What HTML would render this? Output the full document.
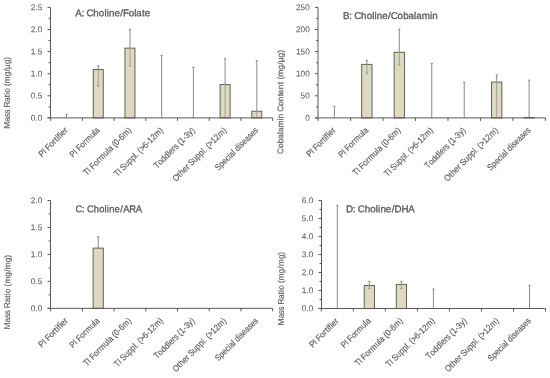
<!DOCTYPE html>
<html><head><meta charset="utf-8"><style>
html,body{margin:0;padding:0;background:#fff;}
svg{display:block;font-family:"Liberation Sans", sans-serif;filter:blur(0.4px);}
text{fill:#595959;stroke:#595959;stroke-width:0.3px;}
text.xl{stroke-width:0.15px;}
text.tk{stroke-width:0.05px;}
text.yt{stroke-width:0.15px;}
</style></head><body>
<svg width="550" height="378" viewBox="0 0 550 378">
<rect width="550" height="378" fill="#fff"/>
<g>
<line x1="66.55" y1="114.36" x2="66.55" y2="117.9" stroke="#8a8a8a" stroke-width="1"/>
<line x1="65.45" y1="114.36" x2="67.64" y2="114.36" stroke="#8a8a8a" stroke-width="1"/>
<rect x="93.26" y="69.5" width="9.99" height="48.4" fill="#DDD9C3" stroke="#606054" stroke-width="1"/>
<line x1="98.25" y1="65.74" x2="98.25" y2="69.5" stroke="#8a8a8a" stroke-width="1"/>
<line x1="98.25" y1="69.5" x2="98.25" y2="85.99" stroke="#a3a092" stroke-width="1"/>
<line x1="97.16" y1="65.74" x2="99.35" y2="65.74" stroke="#8a8a8a" stroke-width="1"/>
<line x1="97.16" y1="85.99" x2="99.35" y2="85.99" stroke="#8a8a8a" stroke-width="1"/>
<rect x="124.97" y="48.15" width="9.99" height="69.75" fill="#DDD9C3" stroke="#606054" stroke-width="1"/>
<line x1="129.97" y1="29.5" x2="129.97" y2="48.15" stroke="#8a8a8a" stroke-width="1"/>
<line x1="129.97" y1="48.15" x2="129.97" y2="65.97" stroke="#a3a092" stroke-width="1"/>
<line x1="128.87" y1="29.5" x2="131.06" y2="29.5" stroke="#8a8a8a" stroke-width="1"/>
<line x1="128.87" y1="65.97" x2="131.06" y2="65.97" stroke="#8a8a8a" stroke-width="1"/>
<line x1="161.68" y1="55.36" x2="161.68" y2="117.9" stroke="#8a8a8a" stroke-width="1"/>
<line x1="160.58" y1="55.36" x2="162.78" y2="55.36" stroke="#8a8a8a" stroke-width="1"/>
<line x1="193.38" y1="67.16" x2="193.38" y2="117.9" stroke="#8a8a8a" stroke-width="1"/>
<line x1="192.28" y1="67.16" x2="194.48" y2="67.16" stroke="#8a8a8a" stroke-width="1"/>
<rect x="220.1" y="84.57" width="9.99" height="33.33" fill="#DDD9C3" stroke="#606054" stroke-width="1"/>
<line x1="225.09" y1="58.67" x2="225.09" y2="84.57" stroke="#8a8a8a" stroke-width="1"/>
<line x1="225.09" y1="84.57" x2="225.09" y2="117.9" stroke="#a3a092" stroke-width="1"/>
<line x1="224" y1="58.67" x2="226.19" y2="58.67" stroke="#8a8a8a" stroke-width="1"/>
<rect x="251.81" y="111.27" width="9.99" height="6.63" fill="#DDD9C3" stroke="#606054" stroke-width="1"/>
<line x1="256.81" y1="60.62" x2="256.81" y2="111.27" stroke="#8a8a8a" stroke-width="1"/>
<line x1="256.81" y1="111.27" x2="256.81" y2="117.9" stroke="#a3a092" stroke-width="1"/>
<line x1="255.71" y1="60.62" x2="257.91" y2="60.62" stroke="#8a8a8a" stroke-width="1"/>
<line x1="50.5" y1="7.4" x2="50.5" y2="117.9" stroke="#595959" stroke-width="1"/>
<line x1="47.5" y1="117.9" x2="272.66" y2="117.9" stroke="#595959" stroke-width="1"/>
<line x1="47.5" y1="117.9" x2="50.5" y2="117.9" stroke="#595959" stroke-width="1"/>
<text class="tk" x="-11.82 -7.09 -4.73" y="0" font-size="8.5" transform="translate(42.2 120.7) rotate(0.05) scale(0.9644 1)">0.0</text>
<line x1="48.5" y1="106.85" x2="50.5" y2="106.85" stroke="#595959" stroke-width="1"/>
<line x1="47.5" y1="95.8" x2="50.5" y2="95.8" stroke="#595959" stroke-width="1"/>
<text class="tk" x="-11.82 -7.09 -4.73" y="0" font-size="8.5" transform="translate(42.2 98.6) rotate(0.05) scale(0.9644 1)">0.5</text>
<line x1="48.5" y1="84.75" x2="50.5" y2="84.75" stroke="#595959" stroke-width="1"/>
<line x1="47.5" y1="73.7" x2="50.5" y2="73.7" stroke="#595959" stroke-width="1"/>
<text class="tk" x="-11.82 -7.09 -4.73" y="0" font-size="8.5" transform="translate(42.2 76.5) rotate(0.05) scale(0.9644 1)">1.0</text>
<line x1="48.5" y1="62.65" x2="50.5" y2="62.65" stroke="#595959" stroke-width="1"/>
<line x1="47.5" y1="51.6" x2="50.5" y2="51.6" stroke="#595959" stroke-width="1"/>
<text class="tk" x="-11.82 -7.09 -4.73" y="0" font-size="8.5" transform="translate(42.2 54.4) rotate(0.05) scale(0.9644 1)">1.5</text>
<line x1="48.5" y1="40.55" x2="50.5" y2="40.55" stroke="#595959" stroke-width="1"/>
<line x1="47.5" y1="29.5" x2="50.5" y2="29.5" stroke="#595959" stroke-width="1"/>
<text class="tk" x="-11.82 -7.09 -4.73" y="0" font-size="8.5" transform="translate(42.2 32.3) rotate(0.05) scale(0.9644 1)">2.0</text>
<line x1="48.5" y1="18.45" x2="50.5" y2="18.45" stroke="#595959" stroke-width="1"/>
<line x1="47.5" y1="7.4" x2="50.5" y2="7.4" stroke="#595959" stroke-width="1"/>
<text class="tk" x="-11.82 -7.09 -4.73" y="0" font-size="8.5" transform="translate(42.2 10.2) rotate(0.05) scale(0.9644 1)">2.5</text>
<line x1="50.69" y1="117.9" x2="50.69" y2="120.9" stroke="#595959" stroke-width="1"/>
<line x1="82.4" y1="117.9" x2="82.4" y2="120.9" stroke="#595959" stroke-width="1"/>
<line x1="114.11" y1="117.9" x2="114.11" y2="120.9" stroke="#595959" stroke-width="1"/>
<line x1="145.82" y1="117.9" x2="145.82" y2="120.9" stroke="#595959" stroke-width="1"/>
<line x1="177.53" y1="117.9" x2="177.53" y2="120.9" stroke="#595959" stroke-width="1"/>
<line x1="209.24" y1="117.9" x2="209.24" y2="120.9" stroke="#595959" stroke-width="1"/>
<line x1="240.95" y1="117.9" x2="240.95" y2="120.9" stroke="#595959" stroke-width="1"/>
<line x1="272.66" y1="117.9" x2="272.66" y2="120.9" stroke="#595959" stroke-width="1"/>
<text class="xl" x="-40.83 -35.21 -32.85 -30.74 -25.59 -20.57 -17.36 -14.68 -12.55 -9.94 -7.97 -3.03" y="0" font-size="8.8" transform="translate(68.45 130.9) rotate(-45) scale(0.9207 1)">PI Fortifier</text>
<text class="xl" x="-43.23 -37.54 -35.14 -32.96 -27.72 -22.62 -19.42 -11.88 -6.84 -4.85" y="0" font-size="8.8" transform="translate(100.16 130.9) rotate(-45) scale(0.8861 1)">PI Formula</text>
<text class="xl" x="-71.05 -65.83 -63.45 -61.29 -56.08 -51.01 -47.86 -40.36 -35.34 -33.37 -28.6 -26.21 -23.27 -18.35 -15.4 -10.38 -2.94" y="0" font-size="8.8" transform="translate(131.87 130.9) rotate(-45) scale(0.8981 1)">TI Formula (0-6m)</text>
<text class="xl" x="-73.74 -68.49 -66.09 -64.03 -58.41 -53.37 -48.32 -43.27 -41.22 -38.82 -36.41 -33.51 -28.4 -23.45 -20.46 -15.51 -10.44 -2.95" y="0" font-size="8.8" transform="translate(163.58 130.9) rotate(-45) scale(0.8833 1)">TI Suppl. (&gt;6-12m)</text>
<text class="xl" x="-59.82 -54.55 -49.54 -44.54 -39.52 -37.52 -32.52 -29.62 -25.44 -23.05 -20.11 -15.19 -12.24 -7.34 -2.93" y="0" font-size="8.8" transform="translate(195.28 130.9) rotate(-45) scale(0.8990 1)">Toddlers (1-3y)</text>
<text class="xl" x="-80.08 -73.14 -70.45 -65.52 -60.53 -57.56 -55.53 -49.97 -44.97 -39.98 -34.97 -32.95 -30.57 -28.19 -25.33 -20.27 -15.37 -10.37 -2.93" y="0" font-size="8.8" transform="translate(227 130.9) rotate(-45) scale(0.9022 1)">Other Suppl. (&gt;12m)</text>
<text class="xl" x="-66.33 -60.64 -55.59 -50.67 -46.19 -44.14 -39.15 -37.14 -34.61 -29.5 -27.55 -23.21 -18.27 -13.48 -9.14 -4.3" y="0" font-size="8.8" transform="translate(258.7 130.9) rotate(-45) scale(0.8565 1)">Special diseases</text>
<text x="-0.09 6.38 9.06 11.36 18.12 23.65 29.21 31.52 33.8 39.25 45.02 47.81 53.57 59.13 61.29 66.86 69.76" y="0" font-size="9.8" transform="translate(75.3 16.2) rotate(0.05) scale(0.9963 1)">A: Choline/Folate</text>
<text class="yt" x="0.22 7.29 11.7 15.55 19.5 21.48 27.15 31.89 34.44 36.4 41 43.24 46.1 53.02 57.86 60.52 65.28 69.82" y="0" font-size="8.3" transform="translate(9.7 128.9) rotate(-89.95) scale(0.9920 1)">Mass Ratio (mg/µg)</text>
</g>
<g>
<line x1="334.38" y1="106.19" x2="334.38" y2="117.9" stroke="#8a8a8a" stroke-width="1"/>
<line x1="333.28" y1="106.19" x2="335.48" y2="106.19" stroke="#8a8a8a" stroke-width="1"/>
<rect x="361.68" y="64.42" width="10.32" height="53.48" fill="#DDD9C3" stroke="#606054" stroke-width="1"/>
<line x1="366.84" y1="60.4" x2="366.84" y2="64.42" stroke="#8a8a8a" stroke-width="1"/>
<line x1="366.84" y1="64.42" x2="366.84" y2="73.3" stroke="#a3a092" stroke-width="1"/>
<line x1="365.74" y1="60.4" x2="367.94" y2="60.4" stroke="#8a8a8a" stroke-width="1"/>
<line x1="365.74" y1="73.3" x2="367.94" y2="73.3" stroke="#8a8a8a" stroke-width="1"/>
<rect x="394.14" y="52.31" width="10.32" height="65.59" fill="#DDD9C3" stroke="#606054" stroke-width="1"/>
<line x1="399.3" y1="29.15" x2="399.3" y2="52.31" stroke="#8a8a8a" stroke-width="1"/>
<line x1="399.3" y1="52.31" x2="399.3" y2="64.9" stroke="#a3a092" stroke-width="1"/>
<line x1="398.2" y1="29.15" x2="400.4" y2="29.15" stroke="#8a8a8a" stroke-width="1"/>
<line x1="398.2" y1="64.9" x2="400.4" y2="64.9" stroke="#8a8a8a" stroke-width="1"/>
<line x1="431.76" y1="63.53" x2="431.76" y2="117.9" stroke="#8a8a8a" stroke-width="1"/>
<line x1="430.66" y1="63.53" x2="432.86" y2="63.53" stroke="#8a8a8a" stroke-width="1"/>
<line x1="464.22" y1="82.1" x2="464.22" y2="117.9" stroke="#8a8a8a" stroke-width="1"/>
<line x1="463.12" y1="82.1" x2="465.32" y2="82.1" stroke="#8a8a8a" stroke-width="1"/>
<rect x="491.52" y="82.1" width="10.32" height="35.8" fill="#DDD9C3" stroke="#606054" stroke-width="1"/>
<line x1="496.68" y1="75.03" x2="496.68" y2="82.1" stroke="#8a8a8a" stroke-width="1"/>
<line x1="496.68" y1="82.1" x2="496.68" y2="117.9" stroke="#a3a092" stroke-width="1"/>
<line x1="495.58" y1="75.03" x2="497.78" y2="75.03" stroke="#8a8a8a" stroke-width="1"/>
<rect x="523.98" y="117.46" width="10.32" height="0.44" fill="#DDD9C3" stroke="#606054" stroke-width="1"/>
<line x1="529.14" y1="80.15" x2="529.14" y2="117.46" stroke="#8a8a8a" stroke-width="1"/>
<line x1="528.04" y1="80.15" x2="530.24" y2="80.15" stroke="#8a8a8a" stroke-width="1"/>
<line x1="318" y1="7.4" x2="318" y2="117.9" stroke="#595959" stroke-width="1"/>
<line x1="315" y1="117.9" x2="545.37" y2="117.9" stroke="#595959" stroke-width="1"/>
<line x1="315" y1="117.9" x2="318" y2="117.9" stroke="#595959" stroke-width="1"/>
<text class="tk" x="-4.73" y="0" font-size="8.5" transform="translate(309.7 120.7) rotate(0.05) scale(0.9649 1)">0</text>
<line x1="316" y1="106.85" x2="318" y2="106.85" stroke="#595959" stroke-width="1"/>
<line x1="315" y1="95.8" x2="318" y2="95.8" stroke="#595959" stroke-width="1"/>
<text class="tk" x="-9.45 -4.73" y="0" font-size="8.5" transform="translate(309.7 98.6) rotate(0.05) scale(0.9649 1)">50</text>
<line x1="316" y1="84.75" x2="318" y2="84.75" stroke="#595959" stroke-width="1"/>
<line x1="315" y1="73.7" x2="318" y2="73.7" stroke="#595959" stroke-width="1"/>
<text class="tk" x="-14.18 -9.45 -4.73" y="0" font-size="8.5" transform="translate(309.7 76.5) rotate(0.05) scale(0.9649 1)">100</text>
<line x1="316" y1="62.65" x2="318" y2="62.65" stroke="#595959" stroke-width="1"/>
<line x1="315" y1="51.6" x2="318" y2="51.6" stroke="#595959" stroke-width="1"/>
<text class="tk" x="-14.18 -9.45 -4.73" y="0" font-size="8.5" transform="translate(309.7 54.4) rotate(0.05) scale(0.9649 1)">150</text>
<line x1="316" y1="40.55" x2="318" y2="40.55" stroke="#595959" stroke-width="1"/>
<line x1="315" y1="29.5" x2="318" y2="29.5" stroke="#595959" stroke-width="1"/>
<text class="tk" x="-14.18 -9.45 -4.73" y="0" font-size="8.5" transform="translate(309.7 32.3) rotate(0.05) scale(0.9649 1)">200</text>
<line x1="316" y1="18.45" x2="318" y2="18.45" stroke="#595959" stroke-width="1"/>
<line x1="315" y1="7.4" x2="318" y2="7.4" stroke="#595959" stroke-width="1"/>
<text class="tk" x="-14.18 -9.45 -4.73" y="0" font-size="8.5" transform="translate(309.7 10.2) rotate(0.05) scale(0.9649 1)">250</text>
<line x1="318.15" y1="117.9" x2="318.15" y2="120.9" stroke="#595959" stroke-width="1"/>
<line x1="350.61" y1="117.9" x2="350.61" y2="120.9" stroke="#595959" stroke-width="1"/>
<line x1="383.07" y1="117.9" x2="383.07" y2="120.9" stroke="#595959" stroke-width="1"/>
<line x1="415.53" y1="117.9" x2="415.53" y2="120.9" stroke="#595959" stroke-width="1"/>
<line x1="447.99" y1="117.9" x2="447.99" y2="120.9" stroke="#595959" stroke-width="1"/>
<line x1="480.45" y1="117.9" x2="480.45" y2="120.9" stroke="#595959" stroke-width="1"/>
<line x1="512.91" y1="117.9" x2="512.91" y2="120.9" stroke="#595959" stroke-width="1"/>
<line x1="545.37" y1="117.9" x2="545.37" y2="120.9" stroke="#595959" stroke-width="1"/>
<text class="xl" x="-40.83 -35.21 -32.85 -30.74 -25.59 -20.57 -17.36 -14.68 -12.55 -9.94 -7.97 -3.03" y="0" font-size="8.8" transform="translate(336.28 130.9) rotate(-45) scale(0.9207 1)">PI Fortifier</text>
<text class="xl" x="-43.23 -37.54 -35.14 -32.96 -27.72 -22.62 -19.42 -11.88 -6.84 -4.85" y="0" font-size="8.8" transform="translate(368.74 130.9) rotate(-45) scale(0.8861 1)">PI Formula</text>
<text class="xl" x="-71.05 -65.83 -63.45 -61.29 -56.08 -51.01 -47.86 -40.36 -35.34 -33.37 -28.6 -26.21 -23.27 -18.35 -15.4 -10.38 -2.94" y="0" font-size="8.8" transform="translate(401.2 130.9) rotate(-45) scale(0.8981 1)">TI Formula (0-6m)</text>
<text class="xl" x="-73.74 -68.49 -66.09 -64.03 -58.41 -53.37 -48.32 -43.27 -41.22 -38.82 -36.41 -33.51 -28.4 -23.45 -20.46 -15.51 -10.44 -2.95" y="0" font-size="8.8" transform="translate(433.66 130.9) rotate(-45) scale(0.8833 1)">TI Suppl. (&gt;6-12m)</text>
<text class="xl" x="-59.82 -54.55 -49.54 -44.54 -39.52 -37.52 -32.52 -29.62 -25.44 -23.05 -20.11 -15.19 -12.24 -7.34 -2.93" y="0" font-size="8.8" transform="translate(466.12 130.9) rotate(-45) scale(0.8990 1)">Toddlers (1-3y)</text>
<text class="xl" x="-80.08 -73.14 -70.45 -65.52 -60.53 -57.56 -55.53 -49.97 -44.97 -39.98 -34.97 -32.95 -30.57 -28.19 -25.33 -20.27 -15.37 -10.37 -2.93" y="0" font-size="8.8" transform="translate(498.58 130.9) rotate(-45) scale(0.9022 1)">Other Suppl. (&gt;12m)</text>
<text class="xl" x="-66.33 -60.64 -55.59 -50.67 -46.19 -44.14 -39.15 -37.14 -34.61 -29.5 -27.55 -23.21 -18.27 -13.48 -9.14 -4.3" y="0" font-size="8.8" transform="translate(531.04 130.9) rotate(-45) scale(0.8565 1)">Special diseases</text>
<text x="-0.17 6.23 8.92 11.23 18.02 23.57 29.15 31.47 33.77 39.25 45.03 47.77 54.57 60.12 65.54 70.99 73.16 78.64 86.99 89.28" y="0" font-size="9.8" transform="translate(343.1 18.9) rotate(0.05) scale(0.9991 1)">B: Choline/Cobalamin</text>
<text class="yt" x="-0.3 5.43 10.11 14.68 19.27 21.1 25.71 32.75 34.68 39.25 41.19 46.92 51.6 56.42 58.87 63.48 68.31 70.72 72.95 75.78 82.67 87.48 90.12 94.85 99.37" y="0" font-size="8.3" transform="translate(283.2 153.6) rotate(-89.95) scale(1.0145 1)">Cobalamin Content (mg/µg)</text>
</g>
<g>
<rect x="93.14" y="248.12" width="10.15" height="60.23" fill="#DDD9C3" stroke="#606054" stroke-width="1"/>
<line x1="98.22" y1="236.68" x2="98.22" y2="248.12" stroke="#8a8a8a" stroke-width="1"/>
<line x1="97.12" y1="236.68" x2="99.31" y2="236.68" stroke="#8a8a8a" stroke-width="1"/>
<line x1="50.5" y1="200.5" x2="50.5" y2="308.35" stroke="#595959" stroke-width="1"/>
<line x1="47.5" y1="308.35" x2="272.62" y2="308.35" stroke="#595959" stroke-width="1"/>
<line x1="47.5" y1="308.35" x2="50.5" y2="308.35" stroke="#595959" stroke-width="1"/>
<text class="tk" x="-11.82 -7.09 -4.73" y="0" font-size="8.5" transform="translate(42.2 311.15) rotate(0.05) scale(0.9644 1)">0.0</text>
<line x1="48.5" y1="294.87" x2="50.5" y2="294.87" stroke="#595959" stroke-width="1"/>
<line x1="47.5" y1="281.39" x2="50.5" y2="281.39" stroke="#595959" stroke-width="1"/>
<text class="tk" x="-11.82 -7.09 -4.73" y="0" font-size="8.5" transform="translate(42.2 284.19) rotate(0.05) scale(0.9644 1)">0.5</text>
<line x1="48.5" y1="267.91" x2="50.5" y2="267.91" stroke="#595959" stroke-width="1"/>
<line x1="47.5" y1="254.43" x2="50.5" y2="254.43" stroke="#595959" stroke-width="1"/>
<text class="tk" x="-11.82 -7.09 -4.73" y="0" font-size="8.5" transform="translate(42.2 257.23) rotate(0.05) scale(0.9644 1)">1.0</text>
<line x1="48.5" y1="240.94" x2="50.5" y2="240.94" stroke="#595959" stroke-width="1"/>
<line x1="47.5" y1="227.46" x2="50.5" y2="227.46" stroke="#595959" stroke-width="1"/>
<text class="tk" x="-11.82 -7.09 -4.73" y="0" font-size="8.5" transform="translate(42.2 230.26) rotate(0.05) scale(0.9644 1)">1.5</text>
<line x1="48.5" y1="213.98" x2="50.5" y2="213.98" stroke="#595959" stroke-width="1"/>
<line x1="47.5" y1="200.5" x2="50.5" y2="200.5" stroke="#595959" stroke-width="1"/>
<text class="tk" x="-11.82 -7.09 -4.73" y="0" font-size="8.5" transform="translate(42.2 203.3) rotate(0.05) scale(0.9644 1)">2.0</text>
<line x1="50.65" y1="308.35" x2="50.65" y2="311.35" stroke="#595959" stroke-width="1"/>
<line x1="82.36" y1="308.35" x2="82.36" y2="311.35" stroke="#595959" stroke-width="1"/>
<line x1="114.07" y1="308.35" x2="114.07" y2="311.35" stroke="#595959" stroke-width="1"/>
<line x1="145.78" y1="308.35" x2="145.78" y2="311.35" stroke="#595959" stroke-width="1"/>
<line x1="177.49" y1="308.35" x2="177.49" y2="311.35" stroke="#595959" stroke-width="1"/>
<line x1="209.2" y1="308.35" x2="209.2" y2="311.35" stroke="#595959" stroke-width="1"/>
<line x1="240.91" y1="308.35" x2="240.91" y2="311.35" stroke="#595959" stroke-width="1"/>
<line x1="272.62" y1="308.35" x2="272.62" y2="311.35" stroke="#595959" stroke-width="1"/>
<text class="xl" x="-40.83 -35.21 -32.85 -30.74 -25.59 -20.57 -17.36 -14.68 -12.55 -9.94 -7.97 -3.03" y="0" font-size="8.8" transform="translate(68.41 321.35) rotate(-45) scale(0.9207 1)">PI Fortifier</text>
<text class="xl" x="-43.23 -37.54 -35.14 -32.96 -27.72 -22.62 -19.42 -11.88 -6.84 -4.85" y="0" font-size="8.8" transform="translate(100.12 321.35) rotate(-45) scale(0.8861 1)">PI Formula</text>
<text class="xl" x="-71.05 -65.83 -63.45 -61.29 -56.08 -51.01 -47.86 -40.36 -35.34 -33.37 -28.6 -26.21 -23.27 -18.35 -15.4 -10.38 -2.94" y="0" font-size="8.8" transform="translate(131.83 321.35) rotate(-45) scale(0.8981 1)">TI Formula (0-6m)</text>
<text class="xl" x="-73.74 -68.49 -66.09 -64.03 -58.41 -53.37 -48.32 -43.27 -41.22 -38.82 -36.41 -33.51 -28.4 -23.45 -20.46 -15.51 -10.44 -2.95" y="0" font-size="8.8" transform="translate(163.53 321.35) rotate(-45) scale(0.8833 1)">TI Suppl. (&gt;6-12m)</text>
<text class="xl" x="-59.82 -54.55 -49.54 -44.54 -39.52 -37.52 -32.52 -29.62 -25.44 -23.05 -20.11 -15.19 -12.24 -7.34 -2.93" y="0" font-size="8.8" transform="translate(195.25 321.35) rotate(-45) scale(0.8990 1)">Toddlers (1-3y)</text>
<text class="xl" x="-80.08 -73.14 -70.45 -65.52 -60.53 -57.56 -55.53 -49.97 -44.97 -39.98 -34.97 -32.95 -30.57 -28.19 -25.33 -20.27 -15.37 -10.37 -2.93" y="0" font-size="8.8" transform="translate(226.96 321.35) rotate(-45) scale(0.9022 1)">Other Suppl. (&gt;12m)</text>
<text class="xl" x="-66.33 -60.64 -55.59 -50.67 -46.19 -44.14 -39.15 -37.14 -34.61 -29.5 -27.55 -23.21 -18.27 -13.48 -9.14 -4.3" y="0" font-size="8.8" transform="translate(258.66 321.35) rotate(-45) scale(0.8565 1)">Special diseases</text>
<text x="-0.29 6.56 9.29 11.67 18.56 24.2 29.85 32.21 34.58 40.14 46 49.09 55.33 62.12" y="0" font-size="9.8" transform="translate(75.8 212.2) rotate(0.05) scale(0.9646 1)">C: Choline/ARA</text>
<text class="yt" x="0.22 7.28 11.68 15.54 19.48 21.46 27.12 31.86 34.41 36.36 40.96 43.2 46.05 52.97 57.8 60.5 67.42 71.95" y="0" font-size="8.3" transform="translate(10.1 329.7) rotate(-89.95) scale(1.0012 1)">Mass Ratio (mg/mg)</text>
</g>
<g>
<line x1="337.31" y1="205.54" x2="337.31" y2="308.5" stroke="#8a8a8a" stroke-width="1"/>
<line x1="336.21" y1="205.54" x2="338.42" y2="205.54" stroke="#8a8a8a" stroke-width="1"/>
<rect x="364.22" y="285.55" width="10.25" height="22.95" fill="#DDD9C3" stroke="#606054" stroke-width="1"/>
<line x1="369.35" y1="281.32" x2="369.35" y2="285.55" stroke="#8a8a8a" stroke-width="1"/>
<line x1="369.35" y1="285.55" x2="369.35" y2="288.39" stroke="#a3a092" stroke-width="1"/>
<line x1="368.25" y1="281.32" x2="370.45" y2="281.32" stroke="#8a8a8a" stroke-width="1"/>
<line x1="368.25" y1="288.39" x2="370.45" y2="288.39" stroke="#8a8a8a" stroke-width="1"/>
<rect x="396.25" y="284.4" width="10.25" height="24.1" fill="#DDD9C3" stroke="#606054" stroke-width="1"/>
<line x1="401.38" y1="281.32" x2="401.38" y2="284.4" stroke="#8a8a8a" stroke-width="1"/>
<line x1="401.38" y1="284.4" x2="401.38" y2="288.39" stroke="#a3a092" stroke-width="1"/>
<line x1="400.27" y1="281.32" x2="402.48" y2="281.32" stroke="#8a8a8a" stroke-width="1"/>
<line x1="400.27" y1="288.39" x2="402.48" y2="288.39" stroke="#8a8a8a" stroke-width="1"/>
<line x1="433.41" y1="289.1" x2="433.41" y2="308.5" stroke="#8a8a8a" stroke-width="1"/>
<line x1="432.31" y1="289.1" x2="434.51" y2="289.1" stroke="#8a8a8a" stroke-width="1"/>
<line x1="529.5" y1="285.5" x2="529.5" y2="308.5" stroke="#8a8a8a" stroke-width="1"/>
<line x1="528.39" y1="285.5" x2="530.6" y2="285.5" stroke="#8a8a8a" stroke-width="1"/>
<line x1="321.5" y1="200.5" x2="321.5" y2="308.5" stroke="#595959" stroke-width="1"/>
<line x1="318.5" y1="308.5" x2="545.51" y2="308.5" stroke="#595959" stroke-width="1"/>
<line x1="318.5" y1="308.5" x2="321.5" y2="308.5" stroke="#595959" stroke-width="1"/>
<text class="tk" x="-11.82 -7.09 -4.73" y="0" font-size="8.5" transform="translate(313.2 311.3) rotate(0.05) scale(0.9644 1)">0.0</text>
<line x1="319.5" y1="299.5" x2="321.5" y2="299.5" stroke="#595959" stroke-width="1"/>
<line x1="318.5" y1="290.5" x2="321.5" y2="290.5" stroke="#595959" stroke-width="1"/>
<text class="tk" x="-11.82 -7.09 -4.73" y="0" font-size="8.5" transform="translate(313.2 293.3) rotate(0.05) scale(0.9644 1)">1.0</text>
<line x1="319.5" y1="281.5" x2="321.5" y2="281.5" stroke="#595959" stroke-width="1"/>
<line x1="318.5" y1="272.5" x2="321.5" y2="272.5" stroke="#595959" stroke-width="1"/>
<text class="tk" x="-11.82 -7.09 -4.73" y="0" font-size="8.5" transform="translate(313.2 275.3) rotate(0.05) scale(0.9644 1)">2.0</text>
<line x1="319.5" y1="263.5" x2="321.5" y2="263.5" stroke="#595959" stroke-width="1"/>
<line x1="318.5" y1="254.5" x2="321.5" y2="254.5" stroke="#595959" stroke-width="1"/>
<text class="tk" x="-11.82 -7.09 -4.73" y="0" font-size="8.5" transform="translate(313.2 257.3) rotate(0.05) scale(0.9644 1)">3.0</text>
<line x1="319.5" y1="245.5" x2="321.5" y2="245.5" stroke="#595959" stroke-width="1"/>
<line x1="318.5" y1="236.5" x2="321.5" y2="236.5" stroke="#595959" stroke-width="1"/>
<text class="tk" x="-11.82 -7.09 -4.73" y="0" font-size="8.5" transform="translate(313.2 239.3) rotate(0.05) scale(0.9644 1)">4.0</text>
<line x1="319.5" y1="227.5" x2="321.5" y2="227.5" stroke="#595959" stroke-width="1"/>
<line x1="318.5" y1="218.5" x2="321.5" y2="218.5" stroke="#595959" stroke-width="1"/>
<text class="tk" x="-11.82 -7.09 -4.73" y="0" font-size="8.5" transform="translate(313.2 221.3) rotate(0.05) scale(0.9644 1)">5.0</text>
<line x1="319.5" y1="209.5" x2="321.5" y2="209.5" stroke="#595959" stroke-width="1"/>
<line x1="318.5" y1="200.5" x2="321.5" y2="200.5" stroke="#595959" stroke-width="1"/>
<text class="tk" x="-11.82 -7.09 -4.73" y="0" font-size="8.5" transform="translate(313.2 203.3) rotate(0.05) scale(0.9644 1)">6.0</text>
<line x1="321.3" y1="308.5" x2="321.3" y2="311.5" stroke="#595959" stroke-width="1"/>
<line x1="353.33" y1="308.5" x2="353.33" y2="311.5" stroke="#595959" stroke-width="1"/>
<line x1="385.36" y1="308.5" x2="385.36" y2="311.5" stroke="#595959" stroke-width="1"/>
<line x1="417.39" y1="308.5" x2="417.39" y2="311.5" stroke="#595959" stroke-width="1"/>
<line x1="449.42" y1="308.5" x2="449.42" y2="311.5" stroke="#595959" stroke-width="1"/>
<line x1="481.45" y1="308.5" x2="481.45" y2="311.5" stroke="#595959" stroke-width="1"/>
<line x1="513.48" y1="308.5" x2="513.48" y2="311.5" stroke="#595959" stroke-width="1"/>
<line x1="545.51" y1="308.5" x2="545.51" y2="311.5" stroke="#595959" stroke-width="1"/>
<text class="xl" x="-40.83 -35.21 -32.85 -30.74 -25.59 -20.57 -17.36 -14.68 -12.55 -9.94 -7.97 -3.03" y="0" font-size="8.8" transform="translate(339.21 321.5) rotate(-45) scale(0.9207 1)">PI Fortifier</text>
<text class="xl" x="-43.23 -37.54 -35.14 -32.96 -27.72 -22.62 -19.42 -11.88 -6.84 -4.85" y="0" font-size="8.8" transform="translate(371.25 321.5) rotate(-45) scale(0.8861 1)">PI Formula</text>
<text class="xl" x="-71.05 -65.83 -63.45 -61.29 -56.08 -51.01 -47.86 -40.36 -35.34 -33.37 -28.6 -26.21 -23.27 -18.35 -15.4 -10.38 -2.94" y="0" font-size="8.8" transform="translate(403.27 321.5) rotate(-45) scale(0.8981 1)">TI Formula (0-6m)</text>
<text class="xl" x="-73.74 -68.49 -66.09 -64.03 -58.41 -53.37 -48.32 -43.27 -41.22 -38.82 -36.41 -33.51 -28.4 -23.45 -20.46 -15.51 -10.44 -2.95" y="0" font-size="8.8" transform="translate(435.31 321.5) rotate(-45) scale(0.8833 1)">TI Suppl. (&gt;6-12m)</text>
<text class="xl" x="-59.82 -54.55 -49.54 -44.54 -39.52 -37.52 -32.52 -29.62 -25.44 -23.05 -20.11 -15.19 -12.24 -7.34 -2.93" y="0" font-size="8.8" transform="translate(467.33 321.5) rotate(-45) scale(0.8990 1)">Toddlers (1-3y)</text>
<text class="xl" x="-80.08 -73.14 -70.45 -65.52 -60.53 -57.56 -55.53 -49.97 -44.97 -39.98 -34.97 -32.95 -30.57 -28.19 -25.33 -20.27 -15.37 -10.37 -2.93" y="0" font-size="8.8" transform="translate(499.37 321.5) rotate(-45) scale(0.9022 1)">Other Suppl. (&gt;12m)</text>
<text class="xl" x="-66.33 -60.64 -55.59 -50.67 -46.19 -44.14 -39.15 -37.14 -34.61 -29.5 -27.55 -23.21 -18.27 -13.48 -9.14 -4.3" y="0" font-size="8.8" transform="translate(531.39 321.5) rotate(-45) scale(0.8565 1)">Special diseases</text>
<text x="-0.1 6.92 9.62 11.95 18.76 24.34 29.94 32.27 34.59 40.08 45.89 48.87 55.77 62.7" y="0" font-size="9.8" transform="translate(346 212.3) rotate(0.05) scale(0.9947 1)">D: Choline/DHA</text>
<text class="yt" x="0.22 7.28 11.68 15.54 19.48 21.46 27.12 31.86 34.41 36.36 40.96 43.2 46.05 52.97 57.8 60.5 67.42 71.95" y="0" font-size="8.3" transform="translate(283.7 325.8) rotate(-89.95) scale(0.9891 1)">Mass Ratio (mg/mg)</text>
</g>
</svg>
</body></html>
